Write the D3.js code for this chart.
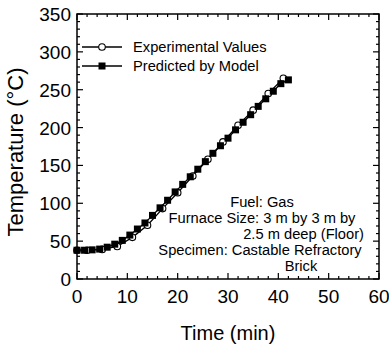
<!DOCTYPE html>
<html>
<head>
<meta charset="utf-8">
<script src="https://cdn.jsdelivr.net/npm/d3@7"></script>
<style>
  body { margin: 0; background: #fff; }
  svg { display: block; font-family: "Liberation Sans", Arial, sans-serif; }
</style>
</head>
<body>
<svg width="389" height="346"></svg>
<script>
const expTime = [0, 2, 5, 8, 11, 14, 17, 20, 23, 26, 29, 32, 35, 38, 41];
const expTemp = [38, 38, 39, 43, 55, 71, 93, 114, 136, 158, 181, 203, 223, 245, 265];

const modelTime = [0, 1.5, 3, 4.5, 6, 7.5, 9, 10.5, 12, 13.5, 15, 16.5, 18, 19.5, 21,
  22.5, 24, 25.5, 27, 28.5, 30, 31.5, 33, 34.5, 36, 37.5, 39, 40.5, 42];
const modelTemp = [38, 38, 38.5, 39.5, 42, 46, 51, 58, 66, 74, 84, 94, 104, 115, 125,
  135, 145, 155, 166, 176, 186, 197, 207, 217, 228, 238, 248, 258, 263];

const xTicks = [0, 10, 20, 30, 40, 50, 60];
const yTicks = [0, 50, 100, 150, 200, 250, 300, 350];

const legendLabels = ["Experimental Values", "Predicted by Model"];
const noteLines = ["Fuel: Gas", "Furnace Size: 3 m by 3 m by", "2.5 m deep (Floor)",
  "Specimen: Castable Refractory", "Brick"];

const svg = d3.select("svg");
const plotL = 77, plotR = 379, plotT = 14, plotB = 279;

const x = d3.scaleLinear().domain([0, 60]).range([plotL, plotR]);
const y = d3.scaleLinear().domain([0, 350]).range([plotB, plotT]);

// frame + inward ticks on all four sides
const frame = svg.append("g").attr("stroke", "#000").attr("fill", "none");
frame.append("rect")
  .attr("x", plotL).attr("y", plotT)
  .attr("width", plotR - plotL).attr("height", plotB - plotT)
  .attr("stroke-width", 1.5);

const xMinor = d3.range(0, 61, 2);
const yMinor = d3.range(0, 351, 10);

xMinor.forEach(v => {
  const len = v % 10 === 0 ? 6 : 3;
  frame.append("line").attr("x1", x(v)).attr("x2", x(v))
    .attr("y1", plotB).attr("y2", plotB - len).attr("stroke-width", 1.2);
  frame.append("line").attr("x1", x(v)).attr("x2", x(v))
    .attr("y1", plotT).attr("y2", plotT + len).attr("stroke-width", 1.2);
});
yMinor.forEach(v => {
  const len = v % 50 === 0 ? 6 : 3;
  frame.append("line").attr("y1", y(v)).attr("y2", y(v))
    .attr("x1", plotL).attr("x2", plotL + len).attr("stroke-width", 1.2);
  frame.append("line").attr("y1", y(v)).attr("y2", y(v))
    .attr("x1", plotR).attr("x2", plotR - len).attr("stroke-width", 1.2);
});

// tick labels
svg.append("g").selectAll("text")
  .data(xTicks)
  .join("text")
  .attr("x", d => x(d))
  .attr("y", 303)
  .attr("text-anchor", "middle")
  .attr("font-size", 19)
  .text(d => d);

svg.append("g").selectAll("text")
  .data(yTicks)
  .join("text")
  .attr("x", 71)
  .attr("y", d => y(d) + 7)
  .attr("text-anchor", "end")
  .attr("font-size", 19)
  .text(d => d);

// axis titles
svg.append("text")
  .attr("x", (plotL + plotR) / 2)
  .attr("y", 340)
  .attr("text-anchor", "middle")
  .attr("font-size", 20)
  .text("Time (min)");

svg.append("text")
  .attr("transform", `translate(23,152) rotate(-90)`)
  .attr("text-anchor", "middle")
  .attr("font-size", 22)
  .text("Temperature (°C)");

// series
const line = d3.line().x(d => x(d[0])).y(d => y(d[1]));
const expData = expTime.map((t, i) => [t, expTemp[i]]);
const modelData = modelTime.map((t, i) => [t, modelTemp[i]]);

svg.append("path").datum(expData)
  .attr("d", line).attr("fill", "none")
  .attr("stroke", "#000").attr("stroke-width", 1.3);
svg.append("path").datum(modelData)
  .attr("d", line).attr("fill", "none")
  .attr("stroke", "#000").attr("stroke-width", 1.3);

svg.append("g").selectAll("circle")
  .data(expData)
  .join("circle")
  .attr("cx", d => x(d[0])).attr("cy", d => y(d[1]))
  .attr("r", 3.3)
  .attr("fill", "#fff").attr("stroke", "#000").attr("stroke-width", 1.1);

svg.append("g").selectAll("rect")
  .data(modelData)
  .join("rect")
  .attr("x", d => x(d[0]) - 3.5).attr("y", d => y(d[1]) - 3.5)
  .attr("width", 7).attr("height", 7)
  .attr("fill", "#000");

// legend
const legend = svg.append("g");
legendLabels.forEach((lab, i) => {
  const ly = 47 + i * 19;
  legend.append("line").attr("x1", 82).attr("x2", 122)
    .attr("y1", ly).attr("y2", ly).attr("stroke", "#000").attr("stroke-width", 1.3);
  if (i === 0) {
    legend.append("circle").attr("cx", 102).attr("cy", ly).attr("r", 3.3)
      .attr("fill", "#fff").attr("stroke", "#000").attr("stroke-width", 1.1);
  } else {
    legend.append("rect").attr("x", 98.5).attr("y", ly - 3.5)
      .attr("width", 7).attr("height", 7).attr("fill", "#000");
  }
  legend.append("text").attr("x", 133).attr("y", ly + 5)
    .attr("font-size", 14.7).text(lab);
});

// annotation
const noteX = [262, 262, 364, 260, 301];
const noteAnchor = ["middle", "middle", "end", "middle", "middle"];
svg.append("g").selectAll("text")
  .data(noteLines)
  .join("text")
  .attr("x", (d, i) => noteX[i])
  .attr("y", (d, i) => 207 + i * 16)
  .attr("text-anchor", (d, i) => noteAnchor[i])
  .attr("font-size", 14.7)
  .text(d => d);
</script>
</body>
</html>
